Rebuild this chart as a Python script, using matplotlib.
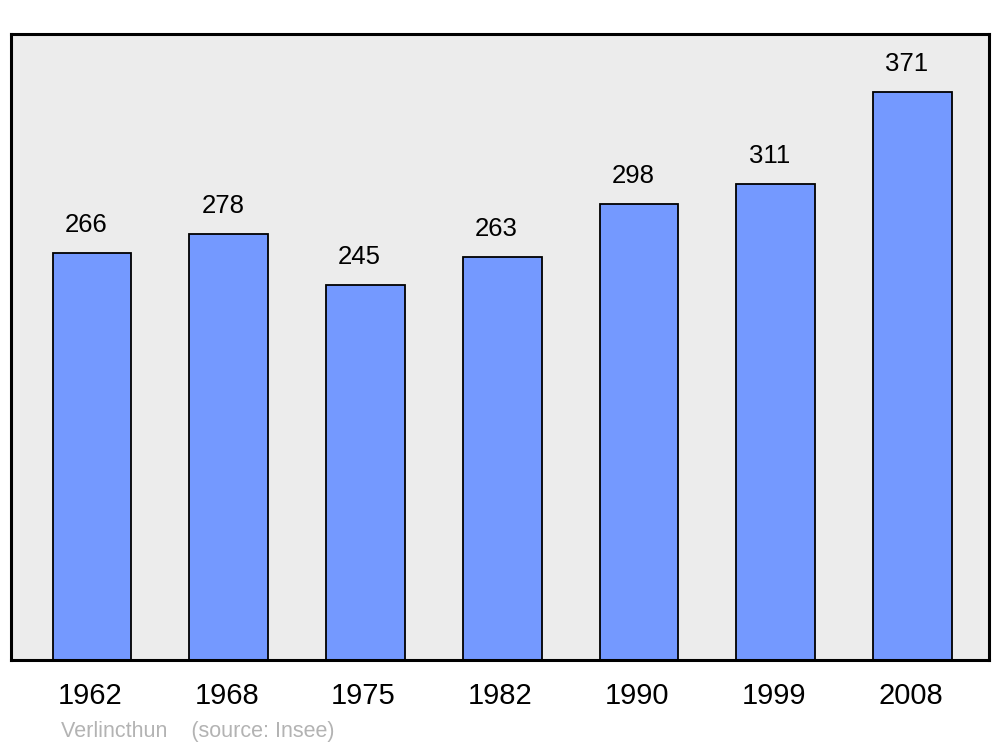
import matplotlib
matplotlib.use("Agg")
import matplotlib.pyplot as plt
import matplotlib.transforms as mtransforms

years = ["1962", "1968", "1975", "1982", "1990", "1999", "2008"]
population = [266, 278, 245, 263, 298, 311, 371]
caption = "Verlincthun    (source: Insee)"

plt.rcParams["font.family"] = ["Liberation Sans", "DejaVu Sans"]

fig = plt.figure(figsize=(10, 7.47), dpi=100)
ax = fig.add_axes([0.011, 0.1165, 0.978, 0.838])
ax.set_facecolor("#ececec")

x = list(range(len(years)))
bars = ax.bar(x, population, width=0.575, color="#7499ff",
              edgecolor="black", linewidth=1.3, zorder=2)

# value labels sit a bit left of each bar centre, like the original
for xi, v in zip(x, population):
    ax.annotate(str(v), (xi, v), xytext=(-6, 16), textcoords="offset pixels",
                ha="center", va="bottom", fontsize=18.5)

ax.set_xlim(-0.593, 6.56)
ax.set_ylim(0, 409)
ax.set_xticks(x)
ax.set_xticklabels(years, fontsize=21)
ax.tick_params(axis="x", length=0, pad=16)
shift = mtransforms.ScaledTranslation(-2 / 100, 0, fig.dpi_scale_trans)
for lbl in ax.get_xticklabels():
    lbl.set_transform(lbl.get_transform() + shift)
ax.set_yticks([])
for s in ax.spines.values():
    s.set_linewidth(2.2)

fig.text(0.061, 1 - 732 / 747, caption, fontsize=15.5, color="#b3b3b3",
         ha="left", va="center")

fig.savefig("out.png", dpi=100)
